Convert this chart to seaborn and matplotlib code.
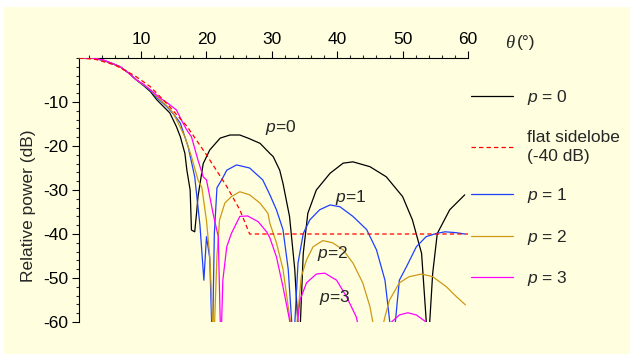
import numpy as np
import pandas as pd
import seaborn as sns
import matplotlib.pyplot as plt
from matplotlib.lines import Line2D
from matplotlib.patches import Rectangle
from matplotlib.ticker import MultipleLocator

# digitised beam patterns, theta (deg) vs relative power (dB)
theta_p0 = [0.5, 2.5, 3.5, 4.2, 5.5, 6.8, 8.0, 9.3, 10.4, 11.4, 12.4, 13.4, 14.4, 15.4, 16.0, 16.7,
            17.0, 17.5, 17.7, 18.2, 18.5, 18.7, 19.5, 20.5, 22.1, 23.6, 25.1, 26.5, 28.2, 29.7, 30.2,
            31.2, 31.7, 32.7, 33.5, 34.2, 34.8, 35.5, 36.8, 38.9, 40.9, 42.4, 45.0, 47.5, 50.0, 51.5,
            52.9, 53.9, 54.6, 55.3, 57.2, 59.5]
power_p0 = [0, 0, -0.3, -0.5, -1.2, -2.0, -3.3, -5.0, -6.3, -7.6, -9.5, -11.0, -12.5, -15.6, -17.9, -21.7,
            -25.5, -30.0, -39.1, -39.5, -35.0, -31.5, -24.0, -20.9, -18.2, -17.5, -17.5, -18.3, -19.4, -21.7, -22.4,
            -25.5, -28.5, -36.0, -48.0, -66.0, -44.4, -35.3, -30.0, -26.2, -23.9, -23.6, -24.7, -27.0, -31.5, -36.8,
            -44.4, -66.0, -48.9, -39.9, -34.5, -31.1]

theta_p1 = [0.5, 2.5, 3.5, 4.2, 5.5, 6.8, 8.0, 9.3, 10.4, 11.4, 12.4, 13.9, 15.0, 16.0, 17.2, 18.2,
            19.0, 19.6, 20.0, 20.5, 20.9, 21.2, 21.6, 22.4, 23.1, 24.6, 26.6, 28.6, 29.7, 30.7, 31.7,
            32.5, 33.3, 34.0, 34.8, 35.8, 37.3, 38.9, 40.4, 42.4, 44.5, 46.0, 47.3, 48.5, 49.5, 50.6,
            52.1, 53.6, 55.1, 56.5, 58.2, 59.5]
power_p1 = [0, 0, -0.3, -0.5, -1.2, -2.0, -3.3, -5.0, -6.2, -7.4, -9.0, -11.0, -12.8, -14.8, -20.2, -27.0,
            -38.0, -50.5, -40.6, -45.5, -66.0, -40.0, -29.5, -27.5, -25.5, -24.3, -25.0, -27.7, -31.1, -34.5, -39.0,
            -48.0, -66.0, -46.6, -39.9, -36.8, -34.5, -33.4, -33.8, -36.0, -39.0, -43.6, -50.5, -66.0, -50.5, -47.4,
            -42.9, -40.6, -39.9, -39.5, -39.7, -40.0]

theta_p2 = [0.5, 2.5, 3.5, 4.2, 5.5, 6.8, 8.0, 9.3, 10.4, 11.4, 12.4, 13.9, 14.9, 16.7, 17.7, 18.7,
            19.3, 20.0, 20.5, 21.1, 21.6, 22.0, 22.8, 23.8, 25.1, 26.6, 28.2, 29.4, 29.7, 30.7, 31.7,
            32.5, 33.5, 34.5, 35.3, 36.3, 37.8, 39.3, 40.9, 42.4, 43.9, 45.0, 46.2, 47.3, 48.0, 49.5,
            51.0, 52.9, 54.6, 56.7, 58.2, 59.6]
power_p2 = [0, 0, -0.3, -0.5, -1.2, -2.0, -3.3, -5.0, -6.1, -7.2, -8.8, -10.8, -12.5, -17.9, -22.4, -27.7,
            -29.5, -37.0, -45.0, -66.0, -45.0, -36.8, -33.0, -31.5, -30.4, -31.1, -33.0, -35.3, -37.6, -42.0, -48.0,
            -56.5, -66.0, -49.7, -45.9, -42.9, -41.5, -42.0, -43.6, -46.6, -51.1, -56.5, -66.0, -58.8, -55.0, -51.1,
            -49.7, -49.1, -49.7, -52.0, -54.2, -56.1]

theta_p3 = [0.5, 2.5, 3.5, 4.2, 5.5, 6.8, 8.0, 9.3, 10.4, 11.4, 12.9, 14.0, 15.4, 16.3, 17.0, 17.7,
            18.7, 19.5, 20.0, 21.0, 21.8, 22.2, 22.5, 23.1, 23.8, 25.1, 26.3, 27.9, 29.2, 29.7, 30.7,
            31.7, 32.5, 33.5, 34.3, 35.3, 36.8, 38.1, 39.9, 41.4, 42.9, 44.0, 47.5, 48.3, 49.5, 50.8,
            52.1, 53.6, 54.5]
power_p3 = [0, 0, -0.3, -0.45, -1.2, -2.0, -3.3, -5.0, -6.0, -7.2, -9.1, -10.2, -11.8, -14.5, -16.4, -17.9,
            -23.2, -27.0, -27.7, -35.3, -40.6, -66.0, -50.5, -42.9, -39.9, -36.0, -35.9, -37.2, -39.5, -40.9, -45.2,
            -52.0, -58.0, -66.0, -55.0, -51.1, -49.1, -48.9, -50.5, -54.2, -58.8, -66.0, -66.0, -60.0, -58.4, -57.9,
            -58.4, -60.0, -66.0]

theta_flat = [0.5, 3.0, 6.0, 9.0, 11.4, 13.9, 17.0, 20.0, 23.1, 25.1, 26.6, 60.0]
power_flat = [0, -0.3, -1.6, -4.0, -6.5, -10.3, -15.5, -22.0, -29.2, -34.5, -40.0, -40.0]

series = [
    ("$p$ = 0", theta_p0, power_p0, "black"),
    ("$p$ = 1", theta_p1, power_p1, "#1f3fff"),
    ("$p$ = 2", theta_p2, power_p2, "#cc9914"),
    ("$p$ = 3", theta_p3, power_p3, "#ff00ff"),
]

sns.set_theme(style="ticks")
plt.rcParams["font.family"] = ["Liberation Sans", "DejaVu Sans"]
plt.rcParams["mathtext.fontset"] = "custom"
plt.rcParams["mathtext.rm"] = "Liberation Sans"
plt.rcParams["mathtext.it"] = "Liberation Sans:italic"
plt.rcParams["axes.unicode_minus"] = False

bg = "#ffffe0"
fs = 12.5
fig = plt.figure(figsize=(6.3, 3.54), dpi=100)
fig.patch.set_facecolor("white")
fig.patches.append(Rectangle((4 / 630, 0), 1, 1 - 7 / 354, transform=fig.transFigure,
                             facecolor=bg, edgecolor="none", zorder=-10))
ax = fig.add_axes([79 / 630, 32 / 354, 389 / 630, 264 / 354])
ax.set_facecolor("none")

for label, xs, ys, col in series:
    df = pd.DataFrame({"theta": xs, "power": ys})
    sns.lineplot(data=df, x="theta", y="power", ax=ax, color=col, lw=0.9,
                 sort=False, estimator=None, zorder=3)
df_flat = pd.DataFrame({"theta": theta_flat, "power": power_flat})
sns.lineplot(data=df_flat, x="theta", y="power", ax=ax, color="#ff0000", lw=0.9,
             sort=False, estimator=None, dashes=False, zorder=4)
ax.lines[-1].set_dashes((3.5, 2.5))

ax.set_xlim(0.5, 60)
ax.set_ylim(-60, 0)
ax.xaxis.tick_top()
ax.xaxis.set_minor_locator(MultipleLocator(2))
ax.yaxis.set_minor_locator(MultipleLocator(2))
ax.set_xticks([10, 20, 30, 40, 50, 60])
ax.set_yticks([-10, -20, -30, -40, -50, -60])
ax.tick_params(axis="both", which="major", direction="out", length=5, width=0.8,
               labelsize=fs, colors="black")
ax.tick_params(axis="x", which="major", pad=3)
ax.tick_params(axis="y", which="major", pad=3)
ax.tick_params(axis="both", which="minor", direction="out", length=2.5, width=0.8)
for s in ["right", "bottom"]:
    ax.spines[s].set_visible(False)
for s in ["top", "left"]:
    ax.spines[s].set_linewidth(0.8)
    ax.spines[s].set_color("black")
ax.set_xlabel("")
ax.set_ylabel("Relative power (dB)", fontsize=fs)
ax.yaxis.set_label_coords(-0.11, 0.44)

fig.text(505 / 630, 1 - 43 / 354, "θ", family="Liberation Serif", style="italic",
         fontsize=13.5, va="center", ha="left")
fig.text(517 / 630, 1 - 43 / 354, "(°)", fontsize=fs, va="center", ha="left")

ax.text(31.4, -15.9, "$p$=0", fontsize=fs, ha="center", va="center")
ax.text(42.0, -31.8, "$p$=1", fontsize=fs, ha="center", va="center")
ax.text(39.3, -44.4, "$p$=2", fontsize=fs, ha="center", va="center")
ax.text(39.6, -54.4, "$p$=3", fontsize=fs, ha="center", va="center")

handles = [
    Line2D([], [], color="black", lw=0.9),
    Line2D([], [], color="#ff0000", lw=0.9, dashes=(3.5, 2.5)),
    Line2D([], [], color="#1f3fff", lw=0.9),
    Line2D([], [], color="#cc9914", lw=0.9),
    Line2D([], [], color="#ff00ff", lw=0.9),
]
labels = ["$p$ = 0", "flat sidelobe\n(-40 dB)", "$p$ = 1", "$p$ = 2", "$p$ = 3"]
leg = fig.legend(handles, labels, loc="upper left", bbox_to_anchor=(471 / 630, 1 - 88 / 354),
                 frameon=False, fontsize=fs, handlelength=2.4, handletextpad=0.8,
                 labelspacing=1.3, borderpad=0, borderaxespad=0)
leg.get_texts()[1].set_linespacing(1.35)

fig.savefig("out.png", dpi=100, facecolor=fig.get_facecolor())
